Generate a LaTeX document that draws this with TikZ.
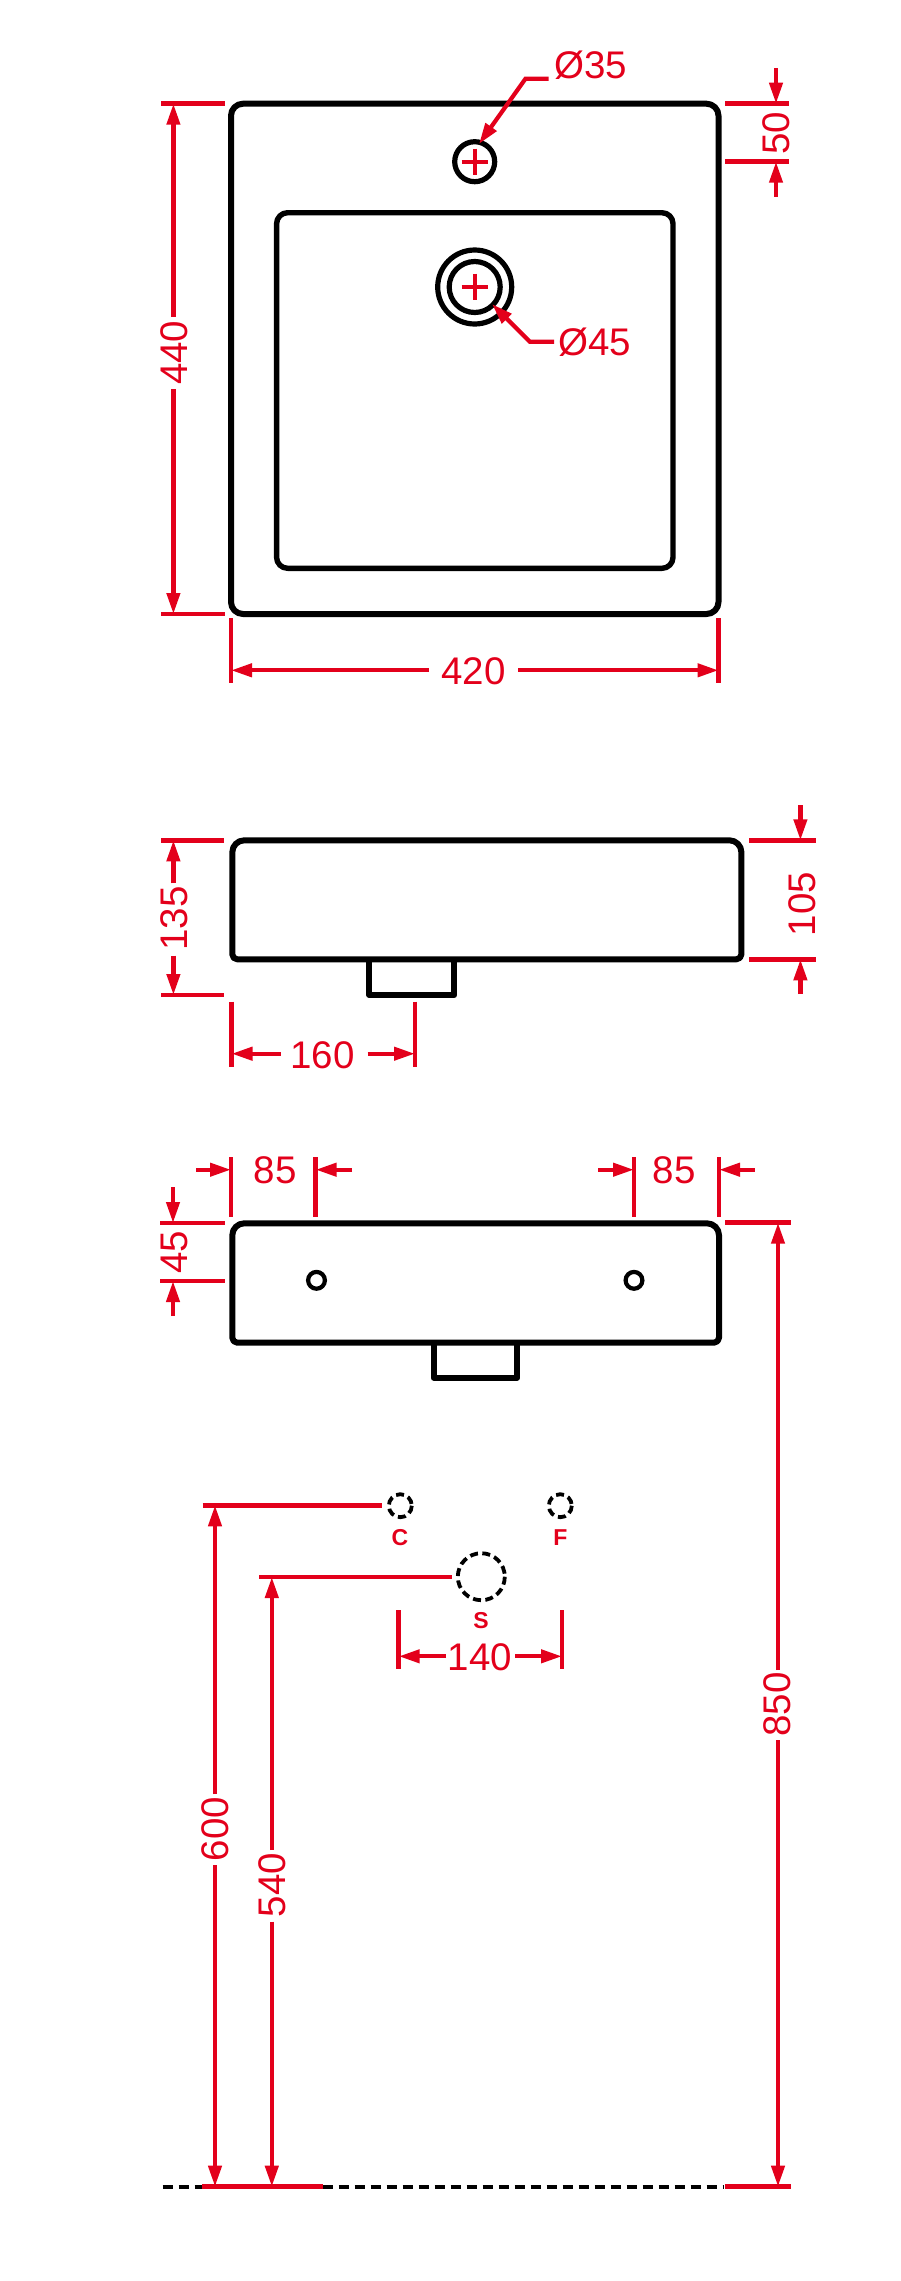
\documentclass[tikz,border=0pt]{standalone}
\usepackage{fontspec}
\usepackage{xcolor}
\setmainfont{Liberation Sans}
\usetikzlibrary{arrows.meta}
\definecolor{dimred}{HTML}{E3001B}
\tikzset{
  body/.style={draw=black,line width=6pt,line join=round},
  holeline/.style={draw=black,line width=5.2pt},
  dashhole/.style={draw=black,line width=3.8pt,dash pattern=on 8pt off 4.4pt},
  dimline/.style={draw=dimred,line width=4.2pt},
  dimarrow/.style={dimline,-{Triangle[length=21pt,width=13pt]}},
  extline/.style={draw=dimred,line width=4.8pt},
  crossline/.style={draw=dimred,line width=3.6pt},
  dimtext/.style={text=dimred,inner sep=0pt,font=\fontsize{38.5}{39}\selectfont},
  vdimtext/.style={dimtext,rotate=90},
  lettertext/.style={text=dimred,inner sep=0pt,font=\fontsize{23}{24}\selectfont\bfseries},
}
\begin{document}
\begin{tikzpicture}[x=1pt,y=-1pt]
\useasboundingbox (0,0) rectangle (901,2281);
\draw[body,rounded corners=12pt] (231,103.7) rectangle (718.5,614);
\draw[body,line width=5.4pt,rounded corners=11pt] (276.6,212.7) rectangle (673,568.3);
\draw[holeline] (474.7,161.7) circle (20);
\draw[holeline] (474.7,287) circle (37);
\draw[holeline] (474.7,287) circle (25.5);
\draw[crossline] (461.5,161.7) -- (488,161.7);
\draw[crossline] (474.7,148.5) -- (474.7,175);
\draw[crossline] (461.5,287) -- (488,287);
\draw[crossline] (474.7,273.7) -- (474.7,300.3);
\draw[extline] (161,103.7) -- (225.4,103.7);
\draw[extline] (161,614) -- (225.4,614);
\draw[dimarrow] (173.4,316.7) -- (173.4,103.7);
\draw[dimarrow] (173.4,389) -- (173.4,614);
\node[vdimtext] (dimA) at (174,352.7) {440};
\draw[extline] (725,103.7) -- (789,103.7);
\draw[extline] (725,161.7) -- (789,161.7);
\draw[dimarrow] (776,68.3) -- (776,103.7);
\draw[dimarrow] (776,196.7) -- (776,161.7);
\node[vdimtext] (dimB) at (776.5,133.5) {50};
\draw[extline] (231,618) -- (231,683.3);
\draw[extline] (718.5,618) -- (718.5,683.3);
\draw[dimarrow] (429,670.3) -- (231,670.3);
\draw[dimarrow] (518,670.3) -- (718.5,670.3);
\node[dimtext] (dimC) at (473.4,671.7) {420};
\draw[dimarrow] (548.5,78.7) -- (525.5,78.7) -- (479,144);
\node[dimtext] (holeA) at (591,65.5) {Ø35};
\draw[dimarrow] (554,341.7) -- (529.8,341.7) -- (492,304);
\node[dimtext] (holeB) at (595,342.5) {Ø45};
\draw[body] (369.4,959.3) -- (369.4,995) -- (454.4,995) -- (454.4,959.3);
\draw[body] (480,840.3) [rounded corners=12pt] -- (232.3,840.3) [rounded corners=5pt] -- (232.3,959.3) -- (741.4,959.3) [rounded corners=12pt] -- (741.4,840.3) -- cycle;
\draw[extline] (161,840.3) -- (224,840.3);
\draw[extline] (161,995) -- (224,995);
\draw[dimarrow] (173.4,883.3) -- (173.4,840.3);
\draw[dimarrow] (173.4,955.7) -- (173.4,995);
\node[vdimtext] (dimD) at (174,918.3) {135};
\draw[extline] (749,840.3) -- (816,840.3);
\draw[extline] (749,959.3) -- (816,959.3);
\draw[dimarrow] (800.4,805) -- (800.4,840.3);
\draw[dimarrow] (800.4,994) -- (800.4,959.3);
\node[vdimtext] (dimE) at (802,904) {105};
\draw[extline] (231.5,1001.7) -- (231.5,1066.7);
\draw[extline] (415,1001.7) -- (415,1066.7);
\draw[dimarrow] (280.5,1053.7) -- (231.5,1053.7);
\draw[dimarrow] (367.6,1053.7) -- (415,1053.7);
\node[dimtext] (dimF) at (322.7,1055) {160};
\draw[body] (433.5,1342.7) -- (433.5,1377.7) -- (517.2,1377.7) -- (517.2,1342.7);
\draw[body] (480,1223.3) [rounded corners=12pt] -- (232.3,1223.3) [rounded corners=5pt] -- (232.3,1342.7) -- (719,1342.7) [rounded corners=12pt] -- (719,1223.3) -- cycle;
\draw[holeline,line width=4.2pt] (316.5,1280.3) circle (8.4);
\draw[holeline,line width=4.2pt] (634,1280.3) circle (8.4);
\draw[extline] (231,1157.3) -- (231,1217.3);
\draw[extline] (315.6,1157.3) -- (315.6,1217.3);
\draw[extline] (634,1157.3) -- (634,1217.3);
\draw[extline] (719,1157.3) -- (719,1217.3);
\draw[dimarrow] (196,1169.7) -- (231,1169.7);
\draw[dimarrow] (352,1169.7) -- (315.6,1169.7);
\draw[dimarrow] (598.3,1169.7) -- (634,1169.7);
\draw[dimarrow] (754.5,1169.7) -- (719,1169.7);
\node[dimtext] (dimG) at (275.2,1170) {85};
\node[dimtext] (dimH) at (674.2,1170) {85};
\draw[extline] (160.4,1223) -- (225.4,1223);
\draw[extline] (160.4,1281) -- (225.4,1281);
\draw[dimarrow] (173,1187.3) -- (173,1223);
\draw[dimarrow] (173,1316) -- (173,1281);
\node[vdimtext] (dimI) at (174,1252.4) {45};
\draw[extline] (725,1222.7) -- (791,1222.7);
\draw[extline] (725,2186.7) -- (791,2186.7);
\draw[dimarrow] (778,1670) -- (778,1222.7);
\draw[dimarrow] (778,1740) -- (778,2186.7);
\node[vdimtext] (dimJ) at (777.7,1704.5) {850};
\draw[dashhole] (400.3,1505.7) circle (11.5);
\draw[dashhole] (560.3,1505.7) circle (11.5);
\draw[dashhole] (481.3,1576.7) circle (23.5);
\node[lettertext] (letC) at (400,1537.7) {C};
\node[lettertext] (letF) at (560.3,1537.7) {F};
\node[lettertext] (letS) at (481,1621) {S};
\draw[extline] (202.7,1505.3) -- (382.3,1505.3);
\draw[extline] (259.3,1577) -- (451.7,1577);
\draw[dimarrow] (215,1794) -- (215,1505.3);
\draw[dimarrow] (215,1865.3) -- (215,2186.7);
\node[vdimtext] (dimK) at (215.7,1829) {600};
\draw[dimarrow] (271.8,1850) -- (271.8,1577);
\draw[dimarrow] (271.8,1921.7) -- (271.8,2186.7);
\node[vdimtext] (dimL) at (272.7,1885) {540};
\draw[extline] (398.7,1610) -- (398.7,1669.3);
\draw[extline] (562,1610) -- (562,1669.3);
\draw[dimarrow] (446,1656.3) -- (398.7,1656.3);
\draw[dimarrow] (515,1656.3) -- (562,1656.3);
\node[dimtext] (dimM) at (480,1657.7) {140};
\draw[draw=black,line width=4pt,dash pattern=on 10.5pt off 5.5pt] (162.5,2186.7) -- (724,2186.7);
\draw[extline] (202.4,2186.7) -- (323,2186.7);
\draw[extline] (725,2186.7) -- (791,2186.7);
\end{tikzpicture}
\end{document}
